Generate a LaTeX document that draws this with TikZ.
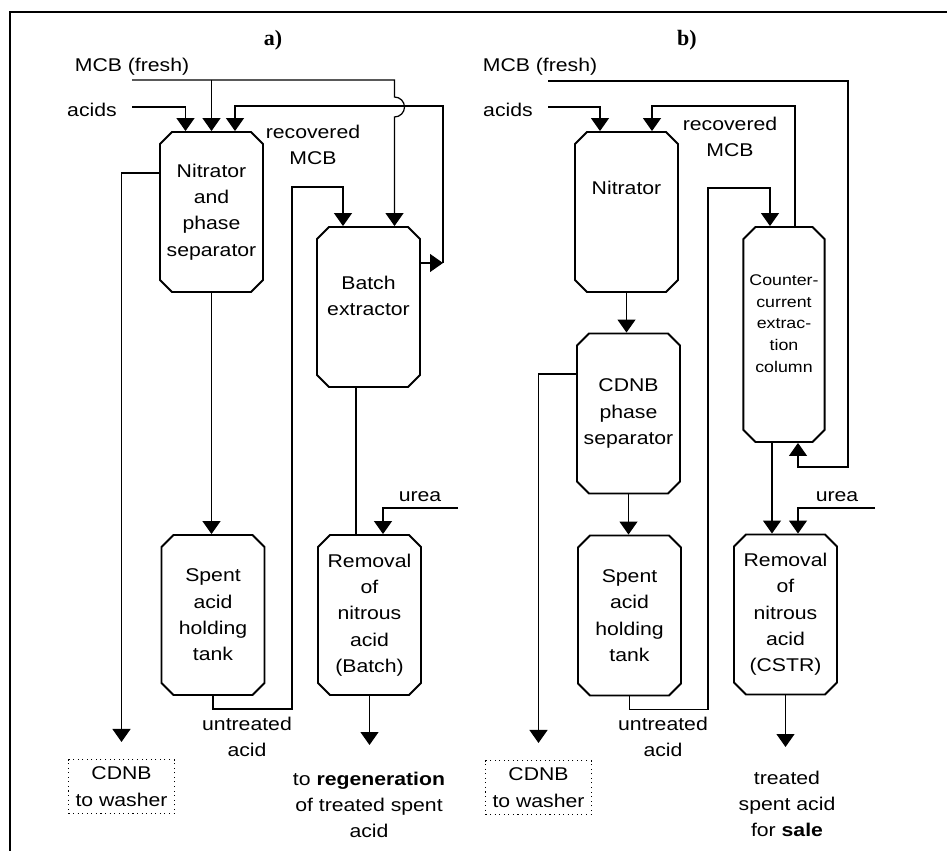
\documentclass[tikz,border=0pt]{standalone}
\usepackage{fontspec}
\setmainfont{Liberation Sans}[FakeStretch=1.15]
\newfontfamily\serifbf{Liberation Serif}
\usetikzlibrary{shapes.misc,arrows.meta,calc}

\begin{document}
\begin{tikzpicture}
            [x=0.02cm,y=-0.02cm,
                every node/.style={font=\fontsize{10.5}{15}\selectfont,align=center},
                unit/.style={draw,line width=1.1pt,chamfered rectangle,chamfered rectangle xsep=0.12cm,chamfered rectangle ysep=0.12cm,minimum width=2.06cm,minimum height=3.2cm,inner sep=0pt},
                sink/.style={draw,dotted,line width=0.6pt,minimum width=2.12cm,minimum height=1.08cm,inner sep=0pt},
                pipe/.style={line width=0.7pt},
                flow/.style={pipe,-{Triangle[width=0.36cm,length=0.26cm]}},
                frame/.style={line width=1.2pt}]
            \useasboundingbox (0,0) rectangle (947,851);
            %draw the frame
            \draw[frame] (10,851) -- (10,12) -- (947,12);

            %units of a)
            \node[unit] (nitA) at (211.5,212) {Nitrator\\and\\phase\\separator};
            \node[unit] (tankA) at (213,615) {Spent\\acid\\holding\\tank};
            \node[unit,text depth=0.44cm] (batch) at (368.5,307) {Batch\\extractor};
            \node[unit] (remA) at (369.5,615) {Removal\\of\\nitrous\\acid\\(Batch)};
            \node[sink] (cdnbA) at (121.5,786.5) {CDNB\\to washer};

            %units of b)
            \node[unit,text depth=0.96cm] (nitB) at (626.5,212) {Nitrator};
            \node[unit] (sepB) at (628.5,413.5) {CDNB\\phase\\separator};
            \node[unit] (tankB) at (629.5,615.5) {Spent\\acid\\holding\\tank};
            \node[unit,minimum width=1.56cm,minimum height=4.3cm,text depth=0.44cm,font=\fontsize{8.8}{12.3}\selectfont] (col) at (784,334.5) {Counter-\\current\\extrac-\\tion\\column};
            \node[unit] (remB) at (785.5,614.5) {Removal\\of\\nitrous\\acid\\(CSTR)};
            \node[sink] (cdnbB) at (538.5,787.5) {CDNB\\to washer};

            %labels
            \node (titleA) at (273,40) {\serifbf\fontsize{12.5}{14}\selectfont\bfseries a)};
            \node (titleB) at (687,40) {\serifbf\fontsize{12.5}{14}\selectfont\bfseries b)};
            \node (freshAl) at (132,67) {MCB (fresh)};
            \node (acidsAl) at (92,110) {acids};
            \node (recAl) at (313,145) {recovered\\MCB};
            \node (untrAl) at (247,737) {untreated\\acid};
            \node (ureaAl) at (420,497) {urea};
            \node (outAl) at (369,805) {to \textbf{regeneration}\\of treated spent\\acid};
            \node (freshBl) at (540,67) {MCB (fresh)};
            \node (acidsBl) at (508,110) {acids};
            \node (recBl) at (730,137) {recovered\\MCB};
            \node (untrBl) at (663,737) {untreated\\acid};
            \node (ureaBl) at (837,497) {urea};
            \node (outBl) at (787,804) {treated\\spent acid\\for \textbf{sale}};

            %free ends and bends
            \coordinate (acidsA) at (132,107);
            \coordinate (freshA) at (132,80);
            \coordinate (hopA) at (394.5,80);
            \coordinate (recA) at (443,263);
            \coordinate (untrA) at (292,187);
            \coordinate (ureaA) at (458,508);
            \coordinate (endA) at (369.5,745);
            \coordinate (acidsB) at (548,107);
            \coordinate (freshB) at (548,81);
            \coordinate (freshBr) at (848,467);
            \coordinate (untrB) at (708,188);
            \coordinate (ureaB) at (875,508);
            \coordinate (endB) at (785.5,747);

            %streams of a)
            \draw[flow] (acidsA) -| ($(nitA.north)+(-26,0)$);
            \draw[flow] (nitA.north |- freshA) -- (nitA.north);
            \draw[flow] (freshA) -- (hopA) -- ++(0,17) arc[start angle=-90,end angle=90,radius=10] -- (hopA |- batch.north);
            \draw[flow] (batch.east |- recA) -- (recA);
            \draw[flow] (recA) |- ($(nitA.north)+(23.5,-25)$) -- ($(nitA.north)+(23.5,0)$);
            \draw[flow,shorten >=0.34cm] ($(nitA.west)+(0,-39)$) -| (cdnbA.north);
            \draw[flow] (nitA.south) -- (nitA.south |- tankA.north);
            \draw[flow] (tankA.south) -- ++(0,13) -| (untrA) -| ($(batch.north)+(-25.5,0)$);
            \draw[pipe] ($(batch.south)+(-12.5,0)$) -- ($(remA.north)+(-13.5,0)$);
            \draw[flow] (ureaA) -| ($(remA.north)+(13.5,0)$);
            \draw[flow] (remA.south) -- (endA);

            %streams of b)
            \draw[flow] (acidsB) -| ($(nitB.north)+(-26.5,0)$);
            \draw[flow] (freshB) -| (freshBr) -| ($(col.south)+(14,0)$);
            \draw[flow] ($(col.north)+(11,0)$) -- ++(0,-120) -| ($(nitB.north)+(25.5,0)$);
            \draw[flow] (nitB.south) -- (nitB.south |- sepB.north);
            \draw[flow,shorten >=0.34cm] ($(sepB.west)+(0,-39.5)$) -| (cdnbB.north);
            \draw[flow] (sepB.south) -- (sepB.south |- tankB.north);
            \draw[flow] (tankB.south) -- ++(0,13) -| (untrB) -| ($(col.north)+(-14,0)$);
            \draw[flow] ($(col.south)+(-12,0)$) -- ($(remB.north)+(-13.5,0)$);
            \draw[flow] (ureaB) -| ($(remB.north)+(12.5,0)$);
            \draw[flow] (remB.south) -- (endB);
        \end{tikzpicture}
\end{document}
